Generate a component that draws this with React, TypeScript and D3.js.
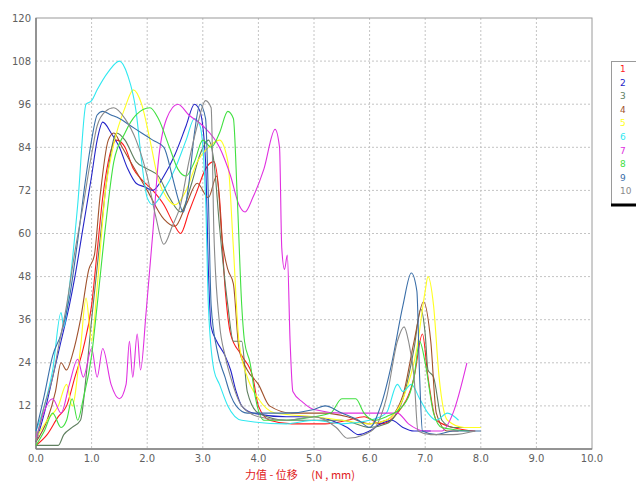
import React from "react";
import * as d3 from "d3";

type P = [number, number];

const xTicks = [0, 1, 2, 3, 4, 5, 6, 7, 8, 9, 10];
const yTicks = [12, 24, 36, 48, 60, 72, 84, 96, 108, 120];
const seriesNames = ["1", "2", "3", "4", "5", "6", "7", "8", "9", "10"];
const seriesColors = ["#ff1a1a", "#2424c8", "#5f7f5f", "#a0522d", "#ffff20", "#30e8f0", "#e030e0", "#40e040", "#3a6ea8", "#8a8a8a"];

const s1: P[] = [[0,1],[0.2,4],[0.4,9],[0.55,12],[0.7,20],[0.85,28],[1.0,40],[1.1,55],[1.2,70],[1.3,80],[1.45,86],[1.6,84],[1.75,78],[1.9,75],[2.1,72],[2.3,68],[2.5,62],[2.6,60],[2.75,66],[2.9,72],[3.05,78],[3.2,80],[3.3,70],[3.4,45],[3.5,32],[3.7,26],[3.9,20],[4.0,12],[4.2,8],[4.6,7],[5.2,7],[5.6,8],[5.9,9],[6.2,7],[6.5,10],[6.8,20],[6.95,32],[7.05,20],[7.2,8],[7.5,6],[7.9,5]];
const s2: P[] = [[0,2],[0.15,10],[0.3,20],[0.45,30],[0.6,40],[0.7,48],[0.85,62],[1.0,76],[1.1,86],[1.2,91],[1.35,88],[1.5,84],[1.65,78],[1.8,74],[1.95,73],[2.1,72],[2.3,76],[2.5,82],[2.7,90],[2.85,96],[2.95,94],[3.05,80],[3.1,50],[3.15,34],[3.25,30],[3.4,26],[3.5,22],[3.6,16],[3.7,12],[3.9,10],[4.5,9],[5.0,9],[5.3,8],[5.6,6],[5.8,4],[6.0,5],[6.2,7],[6.4,8],[6.6,6],[6.8,5],[7.1,5]];
const s3: P[] = [[0,1],[0.4,1],[0.5,4],[0.65,6],[0.8,8],[0.9,20],[1.0,36],[1.15,58],[1.3,78],[1.45,88],[1.6,86],[1.8,80],[2.0,78],[2.2,76],[2.4,70],[2.6,66],[2.8,74],[2.95,82],[3.1,86],[3.2,80],[3.3,62],[3.45,40],[3.55,30],[3.7,30],[3.8,16],[4.0,10],[4.5,8],[5.0,8],[5.5,8],[6.0,6],[6.3,7],[6.6,14],[6.8,28],[6.92,39],[7.0,32],[7.05,22],[7.15,20],[7.3,8],[7.5,6],[7.8,6]];
const s4: P[] = [[0,2],[0.2,8],[0.35,16],[0.45,24],[0.55,22],[0.65,26],[0.8,36],[0.95,50],[1.05,54],[1.15,70],[1.3,86],[1.4,88],[1.55,84],[1.7,80],[2.0,72],[2.3,64],[2.5,62],[2.7,68],[2.9,74],[3.1,70],[3.25,76],[3.35,58],[3.45,50],[3.55,46],[3.65,28],[3.8,22],[4.0,18],[4.2,12],[4.6,10],[5.2,10],[5.6,9],[6.0,7],[6.3,8],[6.6,15],[6.8,30],[6.97,41],[7.1,30],[7.2,10],[7.4,5],[7.6,5]];
const s5: P[] = [[0,3],[0.2,8],[0.4,12],[0.55,18],[0.65,12],[0.8,28],[0.9,42],[1.0,30],[1.1,45],[1.25,72],[1.4,85],[1.6,95],[1.75,100],[1.9,96],[2.05,86],[2.2,75],[2.35,70],[2.5,68],[2.7,72],[2.9,80],[3.1,84],[3.3,86],[3.45,80],[3.55,56],[3.65,30],[3.8,20],[4.0,14],[4.3,10],[5.0,9],[5.5,8],[6.0,7],[6.3,8],[6.6,14],[6.85,28],[7.0,44],[7.05,48],[7.15,40],[7.25,20],[7.4,8],[7.7,6],[8.0,6]];
const s6: P[] = [[0,5],[0.15,12],[0.3,22],[0.45,38],[0.5,34],[0.6,45],[0.75,68],[0.9,96],[1.0,97],[1.1,100],[1.3,105],[1.5,108],[1.65,104],[1.8,94],[1.9,80],[2.0,70],[2.1,68],[2.3,72],[2.5,78],[2.7,86],[2.85,92],[2.95,90],[3.05,70],[3.1,40],[3.2,22],[3.3,18],[3.45,12],[3.7,8],[4.5,7],[5.0,8],[5.5,7],[6.0,8],[6.3,10],[6.5,18],[6.6,16],[6.75,18],[6.9,14],[7.05,10],[7.2,8],[7.4,10],[7.6,8]];
const s7: P[] = [[0,3],[0.3,14],[0.45,10],[0.6,18],[0.75,25],[0.85,20],[1.0,28],[1.1,20],[1.2,28],[1.35,18],[1.5,14],[1.62,18],[1.68,30],[1.74,20],[1.82,32],[1.88,22],[1.98,38],[2.1,60],[2.2,80],[2.35,92],[2.55,96],[2.75,93],[3.0,90],[3.3,84],[3.5,76],[3.65,68],[3.76,66],[3.9,70],[4.1,78],[4.3,89],[4.38,84],[4.42,56],[4.47,50],[4.52,54],[4.57,30],[4.62,16],[4.8,13],[5.0,11],[5.5,10],[6.0,10],[6.3,10],[6.5,10],[6.7,7],[7.0,5],[7.3,5],[7.5,10],[7.75,24]];
const s8: P[] = [[0,1],[0.15,5],[0.3,10],[0.45,6],[0.55,8],[0.65,14],[0.75,8],[0.85,14],[1.0,26],[1.1,40],[1.25,62],[1.4,80],[1.6,88],[1.8,93],[2.05,95],[2.2,92],[2.4,84],[2.55,78],[2.7,76],[2.85,80],[3.0,86],[3.15,84],[3.3,88],[3.45,94],[3.55,92],[3.62,70],[3.7,40],[3.75,30],[3.85,24],[3.95,14],[4.1,8],[4.5,8],[5.0,9],[5.3,10],[5.5,14],[5.75,14],[5.9,10],[6.1,8],[6.3,9],[6.6,12],[6.8,20],[6.9,30],[7.0,24],[7.15,10],[7.3,6],[7.8,5]];
const s9: P[] = [[0,5],[0.15,15],[0.3,26],[0.45,32],[0.6,42],[0.75,58],[0.9,76],[1.0,86],[1.1,93],[1.2,94],[1.35,93],[1.5,92],[1.7,90],[1.9,88],[2.1,86],[2.3,84],[2.45,76],[2.55,70],[2.65,66],[2.75,74],[2.85,88],[2.95,96],[3.05,92],[3.1,70],[3.15,40],[3.25,28],[3.4,20],[3.5,15],[3.6,12],[3.8,10],[4.5,10],[5.0,11],[5.2,12],[5.5,10],[5.8,8],[6.0,6],[6.2,12],[6.4,24],[6.6,40],[6.75,49],[6.85,44],[6.9,20],[6.95,5],[7.2,4],[7.5,5],[8.0,5]];
const s10: P[] = [[0,2],[0.15,12],[0.3,20],[0.4,28],[0.55,40],[0.7,55],[0.85,68],[1.0,82],[1.1,90],[1.25,94],[1.4,95],[1.6,92],[1.8,86],[2.0,76],[2.15,65],[2.3,57],[2.45,62],[2.6,68],[2.75,80],[2.9,90],[3.05,97],[3.15,95],[3.2,60],[3.3,35],[3.4,26],[3.5,20],[3.7,12],[4.0,9],[4.5,8],[5.0,9],[5.4,6],[5.6,3],[5.9,4],[6.1,6],[6.3,14],[6.5,30],[6.62,34],[6.7,30],[6.8,20],[6.87,5],[7.1,4],[7.5,4],[7.9,5]];

const allSeries = [s1, s2, s3, s4, s5, s6, s7, s8, s9, s10];

export default function App() {
  const W = 636, H = 485;
  const left = 36, right = 592, top = 18, bottom = 449;
  const x = d3.scaleLinear().domain([0, 10]).range([left, right]);
  const y = d3.scaleLinear().domain([0, 120]).range([bottom, top]);
  const line = d3.line<P>().x(d => x(d[0])).y(d => y(d[1])).curve(d3.curveMonotoneX);
  const font = "Tahoma, 'DejaVu Sans', sans-serif";
  const legTop = 63, legStep = 13.6;
  return (
    <svg width={W} height={H} style={{ position: "absolute", left: 0, top: 0, background: "#fff" }} fontFamily={font}>
      <rect x={0} y={0} width={W} height={H} fill="#fff" />
      {xTicks.slice(1, -1).map(t => (
        <line key={"gx" + t} x1={x(t)} x2={x(t)} y1={top} y2={bottom} stroke="#c4c4c4" strokeDasharray="2,2" />
      ))}
      {yTicks.slice(0, -1).map(t => (
        <line key={"gy" + t} x1={left} x2={right} y1={y(t)} y2={y(t)} stroke="#c4c4c4" strokeDasharray="2,2" />
      ))}
      <rect x={left} y={top} width={right - left} height={bottom - top} fill="none" stroke="#9a9a9a" strokeWidth={1} />
      <line x1={left} x2={left} y1={top} y2={bottom} stroke="#808080" strokeWidth={1.5} />
      <line x1={left} x2={right} y1={bottom} y2={bottom} stroke="#808080" strokeWidth={1.5} />
      {allSeries.map((s, i) => (
        <path key={"s" + i} d={line(s) || ""} fill="none" stroke={seriesColors[i]} strokeWidth={1.1} />
      ))}
      {xTicks.map(t => (
        <text key={"tx" + t} x={x(t)} y={bottom + 13} fontSize={10} fill="#606060" textAnchor="middle">{t.toFixed(1)}</text>
      ))}
      {yTicks.map(t => (
        <text key={"ty" + t} x={left - 5} y={y(t) + 3.5} fontSize={10} fill="#606060" textAnchor="end">{t}</text>
      ))}
      <text x={300} y={479} fontSize={11} fill="#e02020" textAnchor="middle" fontFamily="'Noto Sans CJK SC', sans-serif">力值 - 位移　 (N , mm)</text>
      <rect x={611.5} y={61.5} width={30} height={143} fill="#fff" stroke="#9a9a9a" />
      <line x1={611} x2={636} y1={205} y2={205} stroke="#000" strokeWidth={3} />
      {seriesNames.map((n, i) => (
        <text key={"lg" + n} x={620} y={legTop + 9 + i * legStep} fontSize={9} fill={seriesColors[i]}>{n}</text>
      ))}
    </svg>
  );
}
